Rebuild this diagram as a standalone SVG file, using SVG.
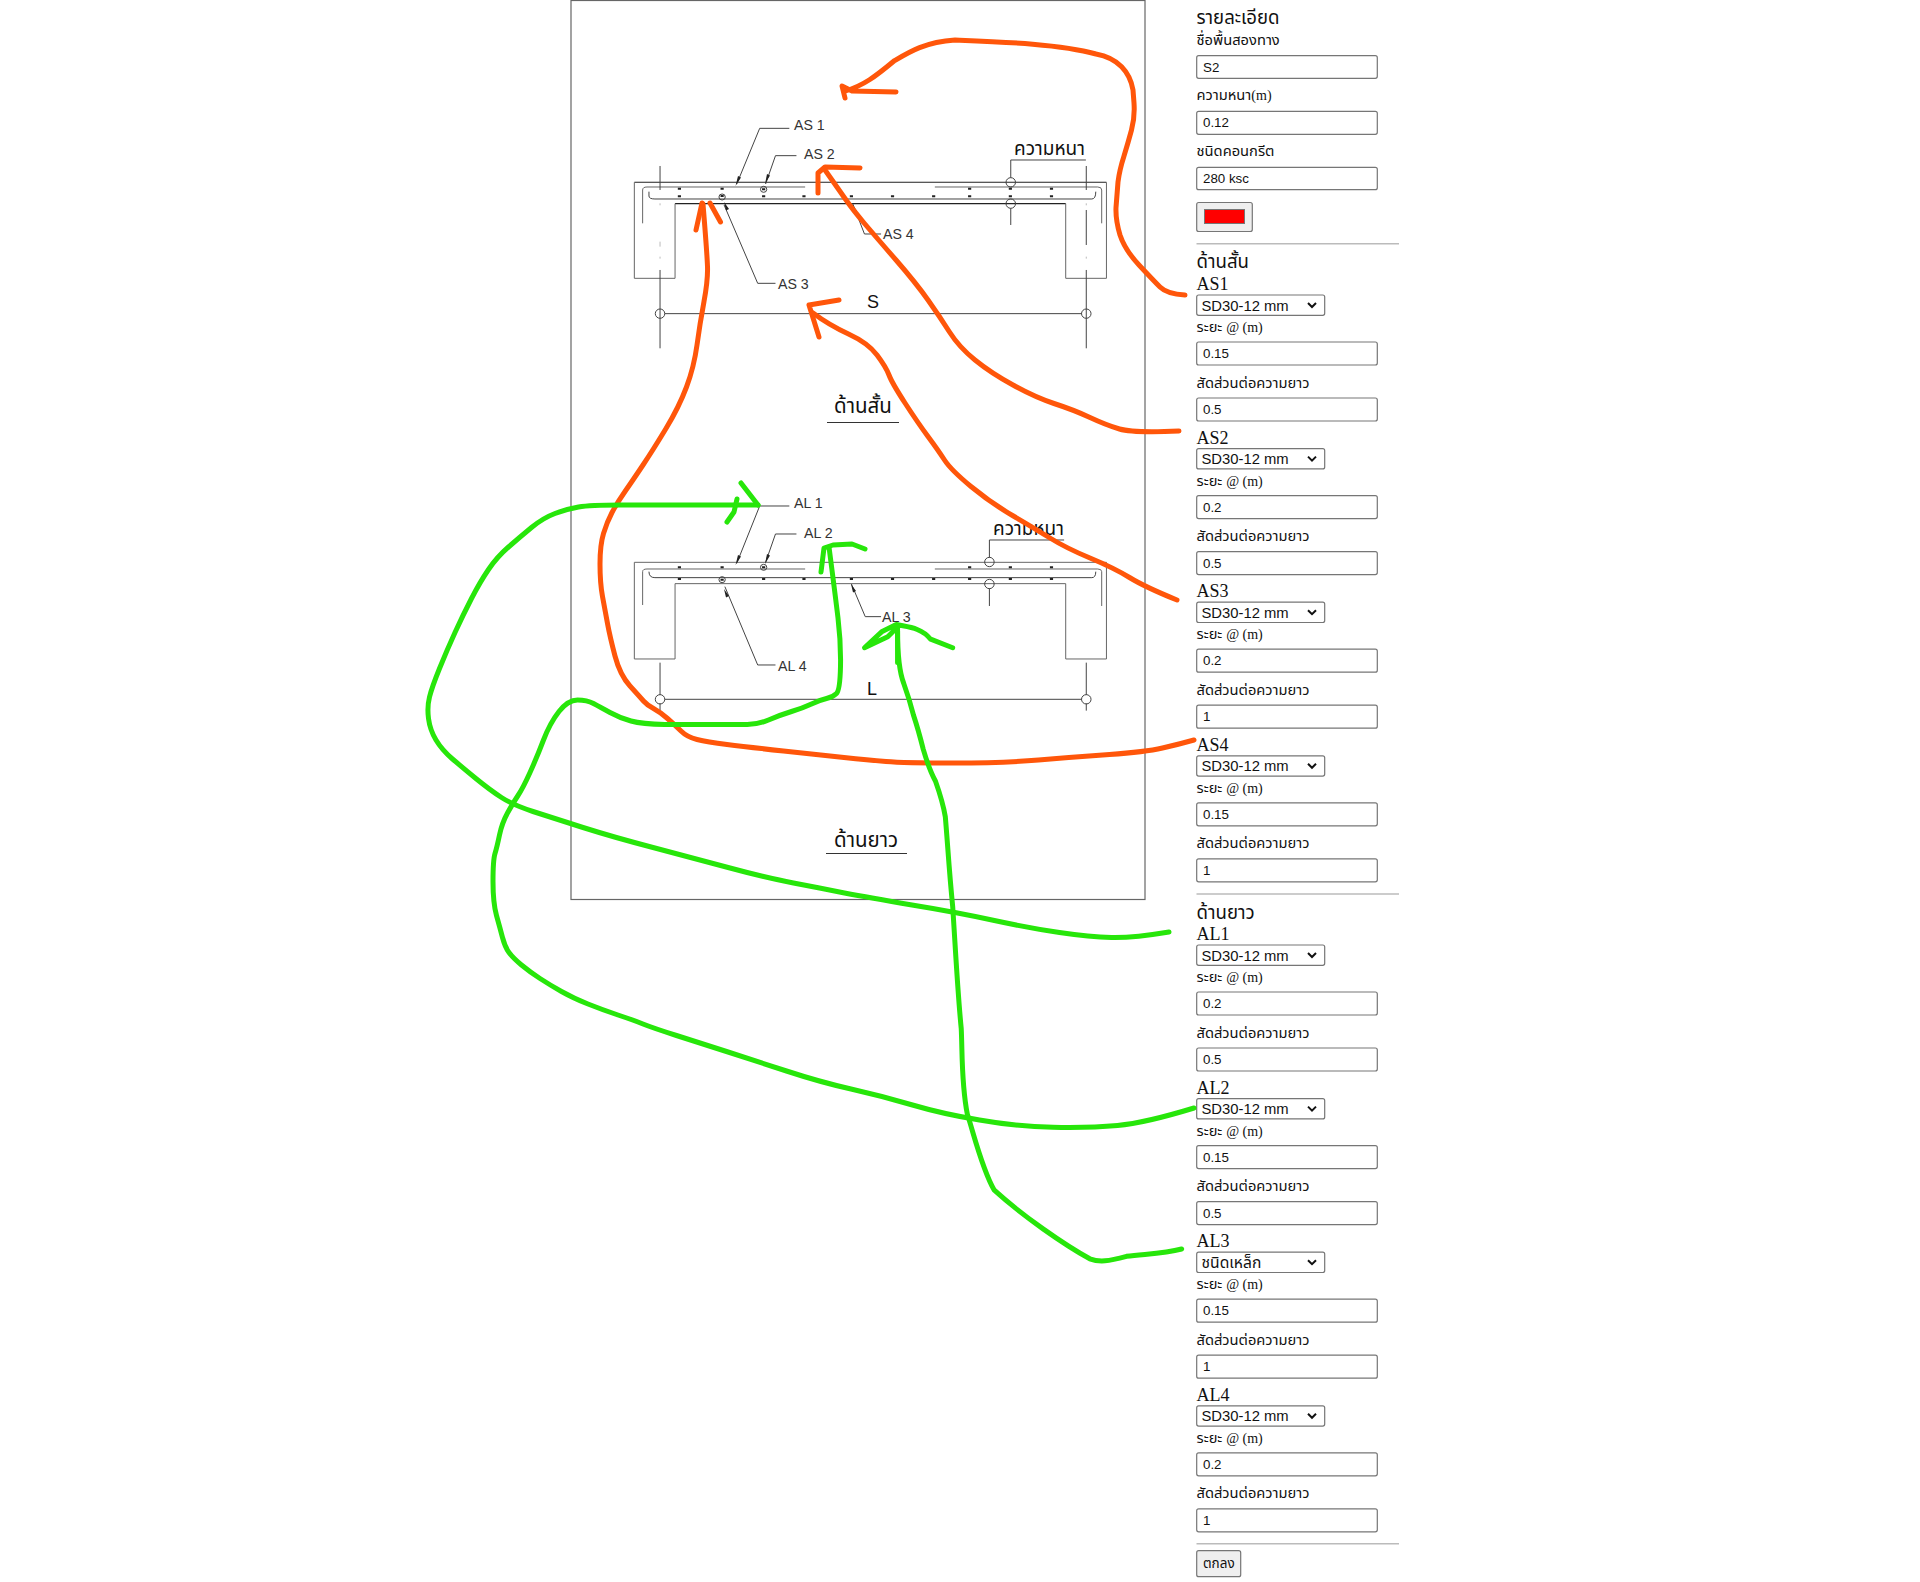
<svg xmlns="http://www.w3.org/2000/svg" width="1920" height="1582" viewBox="0 0 1920 1582">
<style>
text{font-family:"Liberation Sans","Noto Sans","DejaVu Sans",sans-serif;fill:#111}
.th{font-family:"Noto Sans Thai","Noto Sans","Liberation Sans","DejaVu Sans",sans-serif}
.lb{font-size:14.7px}
.hd{font-size:18.6px}
.sf{font-family:"Liberation Serif",serif;font-size:18px}
.se{font-family:"Liberation Serif",serif;font-size:14px}
.v{font-size:13.33px}
.sv{font-size:14.8px}
.st{font-size:15.6px}
.dw{font-size:14.2px;fill:#333}
.box{fill:#fff;stroke:#767676;stroke-width:1.2}
.btn{fill:#efefef;stroke:#767676;stroke-width:1.2}
.hr{stroke:#bbb;stroke-width:1.5;fill:none}
.chev{fill:none;stroke:#111;stroke-width:2}
.d{fill:none;stroke:#222;stroke-width:1.1;vector-effect:non-scaling-stroke}
.w{fill:none;stroke:#666;stroke-width:1;vector-effect:non-scaling-stroke}
.t{fill:none;stroke:#444;stroke-width:1;vector-effect:non-scaling-stroke}
.f{fill:none;stroke:#bbb;stroke-width:1;vector-effect:non-scaling-stroke}
.o{fill:none;stroke:#ff560a;stroke-width:5;stroke-linecap:round;stroke-linejoin:round;vector-effect:non-scaling-stroke}
.n{fill:none;stroke:#27e60a;stroke-width:5;stroke-linecap:round;stroke-linejoin:round;vector-effect:non-scaling-stroke}
.dot{fill:#222}
</style>
<rect width="1920" height="1582" fill="#fff"/>
<rect id="page" x="571" y="0.5" width="574" height="899" fill="none" stroke="#666" stroke-width="1.2"/>

<g id="section-short">
<g transform="translate(560 90) scale(.3954 .3333)">
<path class="d" d="M188,277H1382M291,341H1279"/>
<path class="w" d="M188,277V565H291V341M1382,277V565H1279V341"/>
<path class="w" d="M209,400V300Q209,291 220,291H620M948,291H1360Q1370,291 1370,300V400"/>
<path class="t" d="M225,305V318Q225,327 240,327H1345Q1355,327 1355,305"/>
<path class="t" d="M580,115H505L447,282M598,197H545L520,282M545,580H500L415,345M812,432H770L740,340"/>
<path class="t" d="M1330,210H1140V263M1140,355V405M253,228V300M253,540V775M1331,228V300M1331,360V465M1331,540V775M265,671H1320"/>
<path class="f" d="M253,340V346M253,455V470M253,500V506M1331,340V346M1331,500V506"/>
<ellipse class="t" cx="1140" cy="277" rx="12" ry="14"/><ellipse class="t" cx="1140" cy="341" rx="12" ry="14"/>
<ellipse class="t" cx="253" cy="671" rx="12" ry="14"/><ellipse class="t" cx="1331" cy="671" rx="12" ry="14"/>
<ellipse class="t" cx="515" cy="298" rx="8" ry="9"/><ellipse class="t" cx="410" cy="321" rx="8" ry="9"/>
<path class="dot" d="M298,293h8v6h-8zM406,293h8v6h-8zM1032,293h8v6h-8zM1135,293h8v6h-8zM1239,293h8v6h-8zM298,316h8v6h-8zM511,316h8v6h-8zM613,316h8v6h-8zM733,316h8v6h-8zM837,316h8v6h-8zM941,316h8v6h-8zM1032,316h8v6h-8zM1135,316h8v6h-8zM1239,316h8v6h-8zM406,315h8v6h-8zM511,295h8v6h-8z"/>
</g>
<path class="dot" d="M738,176l3,1.500l-5.500,8.500zM767,174l3,1.500l-5,8.500zM724,202l5,7l-3,1.500zM852,204l5,7l-3,1.500z"/>
<text class="dw" x="794" y="130">AS 1</text>
<text class="dw" x="804" y="159">AS 2</text>
<text class="dw" x="778" y="288.500">AS 3</text>
<text class="dw" x="883" y="238.500">AS 4</text>
<text x="867" y="308" font-size="18">S</text>
<text class="th" x="1014" y="155" font-size="19" fill="#333">ความหนา</text>
<text class="th" x="834" y="413" font-size="20.500">ด้านสั้น</text>
<path d="M827,422.500H899" stroke="#333" stroke-width="1.200" fill="none"/>
</g>

<g id="section-long">
<g transform="translate(560 470) scale(.3954 .3333)">
<path class="w" d="M188,277H1382V567H1279V341H291V567H188Z"/>
<path class="w" d="M209,405V305Q209,297 220,297H620M948,297H1360Q1370,297 1370,305V408"/>
<path class="t" d="M225,305Q225,323 240,323H1345Q1355,323 1355,305"/>
<path class="t" d="M580,108H505L447,280M598,192H545L520,277M545,585H500L417,350M812,440H772L737,342"/>
<path class="t" d="M1275,210H1086V263M1086,355V408M253,578V675M253,700V722M1331,578V675M1331,700V722M265,688H1320"/>
<ellipse class="t" cx="1086" cy="276" rx="12" ry="14"/><ellipse class="t" cx="1086" cy="342" rx="12" ry="14"/>
<ellipse class="t" cx="253" cy="688" rx="12" ry="14"/><ellipse class="t" cx="1331" cy="688" rx="12" ry="14"/>
<ellipse class="t" cx="515" cy="292" rx="8" ry="9"/><ellipse class="t" cx="410" cy="329" rx="8" ry="9"/>
<path class="dot" d="M298,289h8v6h-8zM406,289h8v6h-8zM1032,289h8v6h-8zM1135,289h8v6h-8zM1239,289h8v6h-8zM298,324h8v6h-8zM511,324h8v6h-8zM613,324h8v6h-8zM733,324h8v6h-8zM837,324h8v6h-8zM941,324h8v6h-8zM1032,324h8v6h-8zM1135,324h8v6h-8zM1239,324h8v6h-8zM406,326h8v6h-8zM511,289h8v6h-8z"/>
</g>
<path class="dot" d="M738,555l3,1.500l-5.500,8.500zM767,554l3,1.500l-5,8.500zM724,589l5,7l-3,1.500zM851,584l5,7l-3,1.500z"/>
<text class="dw" x="794" y="508">AL 1</text>
<text class="dw" x="804" y="538">AL 2</text>
<text class="dw" x="882" y="622">AL 3</text>
<text class="dw" x="778" y="671">AL 4</text>
<text x="867" y="695" font-size="18">L</text>
<text class="th" x="993" y="535" font-size="19" fill="#333">ความหนา</text>
<text class="th" x="834" y="847" font-size="20.500">ด้านยาว</text>
<path d="M826,853.500H907" stroke="#333" stroke-width="1.200" fill="none"/>
</g>

<g id="form-head">
<text class="th hd" x="1196.500" y="24">รายละเอียด</text>
<text class="th lb" x="1196.500" y="45">ชื่อพื้นสองทาง</text>
<rect class="box" x="1196.700" y="55.700" width="180.600" height="22.600" rx="2"/><text class="v" x="1203" y="72">S2</text>
<text class="th lb" x="1196.500" y="100">ความหนา<tspan class="se">(m)</tspan></text>
<rect class="box" x="1196.700" y="111.300" width="180.600" height="23" rx="2"/><text class="v" x="1203" y="127">0.12</text>
<text class="th lb" x="1196.500" y="156">ชนิดคอนกรีต</text>
<rect class="box" x="1196.700" y="167.300" width="180.600" height="22.400" rx="2"/><text class="v" x="1203" y="183">280 ksc</text>
<rect class="btn" x="1196.700" y="202.500" width="55.600" height="29" rx="2"/>
<rect x="1204.500" y="209.500" width="40" height="14" fill="#f00" stroke="#767676"/>
<path class="hr" d="M1196.500,243.700H1399"/>
<text class="th hd" x="1196.500" y="268">ด้านสั้น</text>
<path class="hr" d="M1196.500,894H1399"/>
<text class="th hd" x="1196.500" y="919">ด้านยาว</text>
<path class="hr" d="M1196.500,1543.700H1399"/>
<rect class="btn" x="1196.700" y="1550.700" width="44" height="26" rx="2"/>
<text class="th" font-size="13.500" x="1203" y="1568">ตกลง</text>
</g>

<g id="AS1"><text class="sf" x="1196.500" y="290">AS1</text><rect class="box" x="1196.700" y="295" width="128" height="20.300" rx="2"/><text class="sv" x="1201.500" y="310.500">SD30-12 mm</text><path class="chev" d="M1308,303l4,4 4,-4"/><text class="th lb" x="1196.500" y="332">ระยะ <tspan class="se">@ (m)</tspan></text><rect class="box" x="1196.700" y="342" width="180.600" height="23" rx="2"/><text class="v" x="1203" y="358">0.15</text><text class="th lb" x="1196.500" y="387.500">สัดส่วนต่อความยาว</text><rect class="box" x="1196.700" y="398" width="180.600" height="23" rx="2"/><text class="v" x="1203" y="414">0.5</text></g>
<g id="AS2" transform="translate(0 153.600)"><text class="sf" x="1196.500" y="290">AS2</text><rect class="box" x="1196.700" y="295" width="128" height="20.300" rx="2"/><text class="sv" x="1201.500" y="310.500">SD30-12 mm</text><path class="chev" d="M1308,303l4,4 4,-4"/><text class="th lb" x="1196.500" y="332">ระยะ <tspan class="se">@ (m)</tspan></text><rect class="box" x="1196.700" y="342" width="180.600" height="23" rx="2"/><text class="v" x="1203" y="358">0.2</text><text class="th lb" x="1196.500" y="387.500">สัดส่วนต่อความยาว</text><rect class="box" x="1196.700" y="398" width="180.600" height="23" rx="2"/><text class="v" x="1203" y="414">0.5</text></g>
<g id="AS3" transform="translate(0 307.200)"><text class="sf" x="1196.500" y="290">AS3</text><rect class="box" x="1196.700" y="295" width="128" height="20.300" rx="2"/><text class="sv" x="1201.500" y="310.500">SD30-12 mm</text><path class="chev" d="M1308,303l4,4 4,-4"/><text class="th lb" x="1196.500" y="332">ระยะ <tspan class="se">@ (m)</tspan></text><rect class="box" x="1196.700" y="342" width="180.600" height="23" rx="2"/><text class="v" x="1203" y="358">0.2</text><text class="th lb" x="1196.500" y="387.500">สัดส่วนต่อความยาว</text><rect class="box" x="1196.700" y="398" width="180.600" height="23" rx="2"/><text class="v" x="1203" y="414">1</text></g>
<g id="AS4" transform="translate(0 460.800)"><text class="sf" x="1196.500" y="290">AS4</text><rect class="box" x="1196.700" y="295" width="128" height="20.300" rx="2"/><text class="sv" x="1201.500" y="310.500">SD30-12 mm</text><path class="chev" d="M1308,303l4,4 4,-4"/><text class="th lb" x="1196.500" y="332">ระยะ <tspan class="se">@ (m)</tspan></text><rect class="box" x="1196.700" y="342" width="180.600" height="23" rx="2"/><text class="v" x="1203" y="358">0.15</text><text class="th lb" x="1196.500" y="387.500">สัดส่วนต่อความยาว</text><rect class="box" x="1196.700" y="398" width="180.600" height="23" rx="2"/><text class="v" x="1203" y="414">1</text></g>
<g id="AL1" transform="translate(0 650)"><text class="sf" x="1196.500" y="290">AL1</text><rect class="box" x="1196.700" y="295" width="128" height="20.300" rx="2"/><text class="sv" x="1201.500" y="310.500">SD30-12 mm</text><path class="chev" d="M1308,303l4,4 4,-4"/><text class="th lb" x="1196.500" y="332">ระยะ <tspan class="se">@ (m)</tspan></text><rect class="box" x="1196.700" y="342" width="180.600" height="23" rx="2"/><text class="v" x="1203" y="358">0.2</text><text class="th lb" x="1196.500" y="387.500">สัดส่วนต่อความยาว</text><rect class="box" x="1196.700" y="398" width="180.600" height="23" rx="2"/><text class="v" x="1203" y="414">0.5</text></g>
<g id="AL2" transform="translate(0 803.600)"><text class="sf" x="1196.500" y="290">AL2</text><rect class="box" x="1196.700" y="295" width="128" height="20.300" rx="2"/><text class="sv" x="1201.500" y="310.500">SD30-12 mm</text><path class="chev" d="M1308,303l4,4 4,-4"/><text class="th lb" x="1196.500" y="332">ระยะ <tspan class="se">@ (m)</tspan></text><rect class="box" x="1196.700" y="342" width="180.600" height="23" rx="2"/><text class="v" x="1203" y="358">0.15</text><text class="th lb" x="1196.500" y="387.500">สัดส่วนต่อความยาว</text><rect class="box" x="1196.700" y="398" width="180.600" height="23" rx="2"/><text class="v" x="1203" y="414">0.5</text></g>
<g id="AL3" transform="translate(0 957.200)"><text class="sf" x="1196.500" y="290">AL3</text><rect class="box" x="1196.700" y="295" width="128" height="20.300" rx="2"/><text class="th st" x="1201.500" y="310.500">ชนิดเหล็ก</text><path class="chev" d="M1308,303l4,4 4,-4"/><text class="th lb" x="1196.500" y="332">ระยะ <tspan class="se">@ (m)</tspan></text><rect class="box" x="1196.700" y="342" width="180.600" height="23" rx="2"/><text class="v" x="1203" y="358">0.15</text><text class="th lb" x="1196.500" y="387.500">สัดส่วนต่อความยาว</text><rect class="box" x="1196.700" y="398" width="180.600" height="23" rx="2"/><text class="v" x="1203" y="414">1</text></g>
<g id="AL4" transform="translate(0 1110.800)"><text class="sf" x="1196.500" y="290">AL4</text><rect class="box" x="1196.700" y="295" width="128" height="20.300" rx="2"/><text class="sv" x="1201.500" y="310.500">SD30-12 mm</text><path class="chev" d="M1308,303l4,4 4,-4"/><text class="th lb" x="1196.500" y="332">ระยะ <tspan class="se">@ (m)</tspan></text><rect class="box" x="1196.700" y="342" width="180.600" height="23" rx="2"/><text class="v" x="1203" y="358">0.2</text><text class="th lb" x="1196.500" y="387.500">สัดส่วนต่อความยาว</text><rect class="box" x="1196.700" y="398" width="180.600" height="23" rx="2"/><text class="v" x="1203" y="414">1</text></g>

<g id="connectors">
<path class="o" d="M1185,295Q1167,294 1160,287Q1153,280 1139,265Q1125,250 1120,235Q1115.500,220 1116,207.500Q1117,195 1118,182Q1119.500,170 1124,156Q1128,143 1131.500,130Q1135,117 1134,103L1133,90C1130,72 1118,58 1096,54C1060,44 1004,42 955,40C925,42 909,52 894,61C876,76 863,86 845,91"/>
<path class="o" d="M896,92L852,91L842,86L845,98"/>
<path class="o" d="M1179,431Q1133,433 1119.500,429Q1106,425 1090,417.500Q1074,410 1054,403.500Q1034.500,397 1013,385Q991,373 975,360Q959,347 949.500,332Q940,317 928,300Q916,283 896,260Q876,237 864.500,223.500Q853,210 845,198.500Q837,187 825,170"/>
<path class="o" d="M818,193L818,173L825,167L860,168"/>
<path class="o" d="M1177,600Q1145,587 1129.500,577.500Q1114,568 1090,558Q1066,548 1050,538Q1034,528 1012.500,515.500Q991,503 971,486.500Q951,470 944.500,460Q938,450 928,436.500Q918,423 905,403Q892,383 889,375Q886,367 877,355Q868,343 848.500,334Q829,325 813,313"/>
<path class="o" d="M839,300L809,305L819,337"/>
<path class="o" d="M1194,740Q1180,744 1162.500,748Q1145,752 1109.500,754.500Q1074,757 1038.500,760Q1003,763 953.500,763Q904,763 886,761.500Q868,760 844,757.500Q820,755 783.500,751Q747,747 727,744.500Q707,742 697,739.500Q687,737 681,731Q675,725 667.500,718.500Q660,712 653.500,708.500Q647,705 643.500,701Q640,697 630,686Q620,675 615,656Q610,637 607.500,623.500Q605,610 602.500,596.500Q600,583 600,564Q600,545 603.500,533.500Q607,522 612,512.500Q617,503 625,491.500Q633,480 643,465Q653,450 666,428.500Q679,407 686.500,387Q694,367 697,345Q700,323 704,301.500Q708,280 707.500,266.500Q707,253 703,204"/>
<path class="o" d="M696,230L702,203M710,203L720.500,222"/>
<path class="n" d="M1169,932Q1133,938 1111.500,937.500Q1090,937 1059.500,932.500Q1029,928 992,920Q955,912 912,905Q869,897.600 844.500,893Q820,888 793.500,883Q767,878 730,868Q693,858 653,847.500Q613,837 583,827.500Q553,818 533,811.500Q513,805 501.500,797.500Q490,790 476.500,779Q463,768 452.500,759Q442,750 436,740Q430,730 428.500,718.500Q427,707 429.500,697Q432,687 439.500,668.500Q447,650 455,632.500Q463,615 471.500,598.500Q480,582 488.500,569.500Q497,557 508.500,547Q520,537 531.500,527.500Q543,518 555,513.500Q567,509 578.500,507Q590,505 620,505H758"/>
<path class="n" d="M741,483L758,505M737,499L734,512L727,522"/>
<path class="n" d="M1194,1108Q1145,1123 1117.500,1125.500Q1090,1128 1053,1127.250Q1016,1126.500 979.500,1120Q943,1114 912.500,1105Q882,1096 851,1089Q820,1082 786.500,1071Q753,1060 726.500,1051.500Q700,1043 676.500,1035.500Q653,1028 643,1024Q633,1020 618,1015Q603,1010 588,1004Q573,998 561.500,991.500Q550,985 540,978.500Q530,972 521.500,965Q513,958 509,952.500Q505,947 502.500,937.500Q500,928 496.500,915.500Q493,903 493,881.500Q493,860 495,853.500Q497,847 499.500,835Q502,823 507.500,813Q513,803 518,795.500Q523,788 530,772.500Q537,757 543.500,740Q550,723 559,711.500Q568,700 577.500,700Q587,700 593.500,703.500Q600,707 610,712.500Q620,718 631,721Q642,724 665,724.500H745Q757,725 768.500,720Q780,715 791.500,711.500Q803,708 811.500,704Q820,700 826.500,698.500Q833,697 836.500,693.500Q840,690 840.500,666.500Q841,643 838,618Q835,593 829,547"/>
<path class="n" d="M821,572L824,548L833,545L852,544L865,549"/>
<g transform="scale(1.2245)">
<path class="n" d="M965,1020C950,1024 935,1024 920,1026C905,1030 898,1031 890,1028C870,1017 835,993 812,972C802,955 795,925 790,910C785,885 786,860 785,840C782,810 780,770 778,740C775,710 774,690 772,667Q770,655 764,638Q759,629 754,612Q750,596 746,584Q743,572 738,558Q733,545 733,515"/>
<path class="n" d="M733,541V512L725,520L706,529L720,516L732,510C740,512 752,512 760,522L778,529"/>
</g>
</g>
</svg>
